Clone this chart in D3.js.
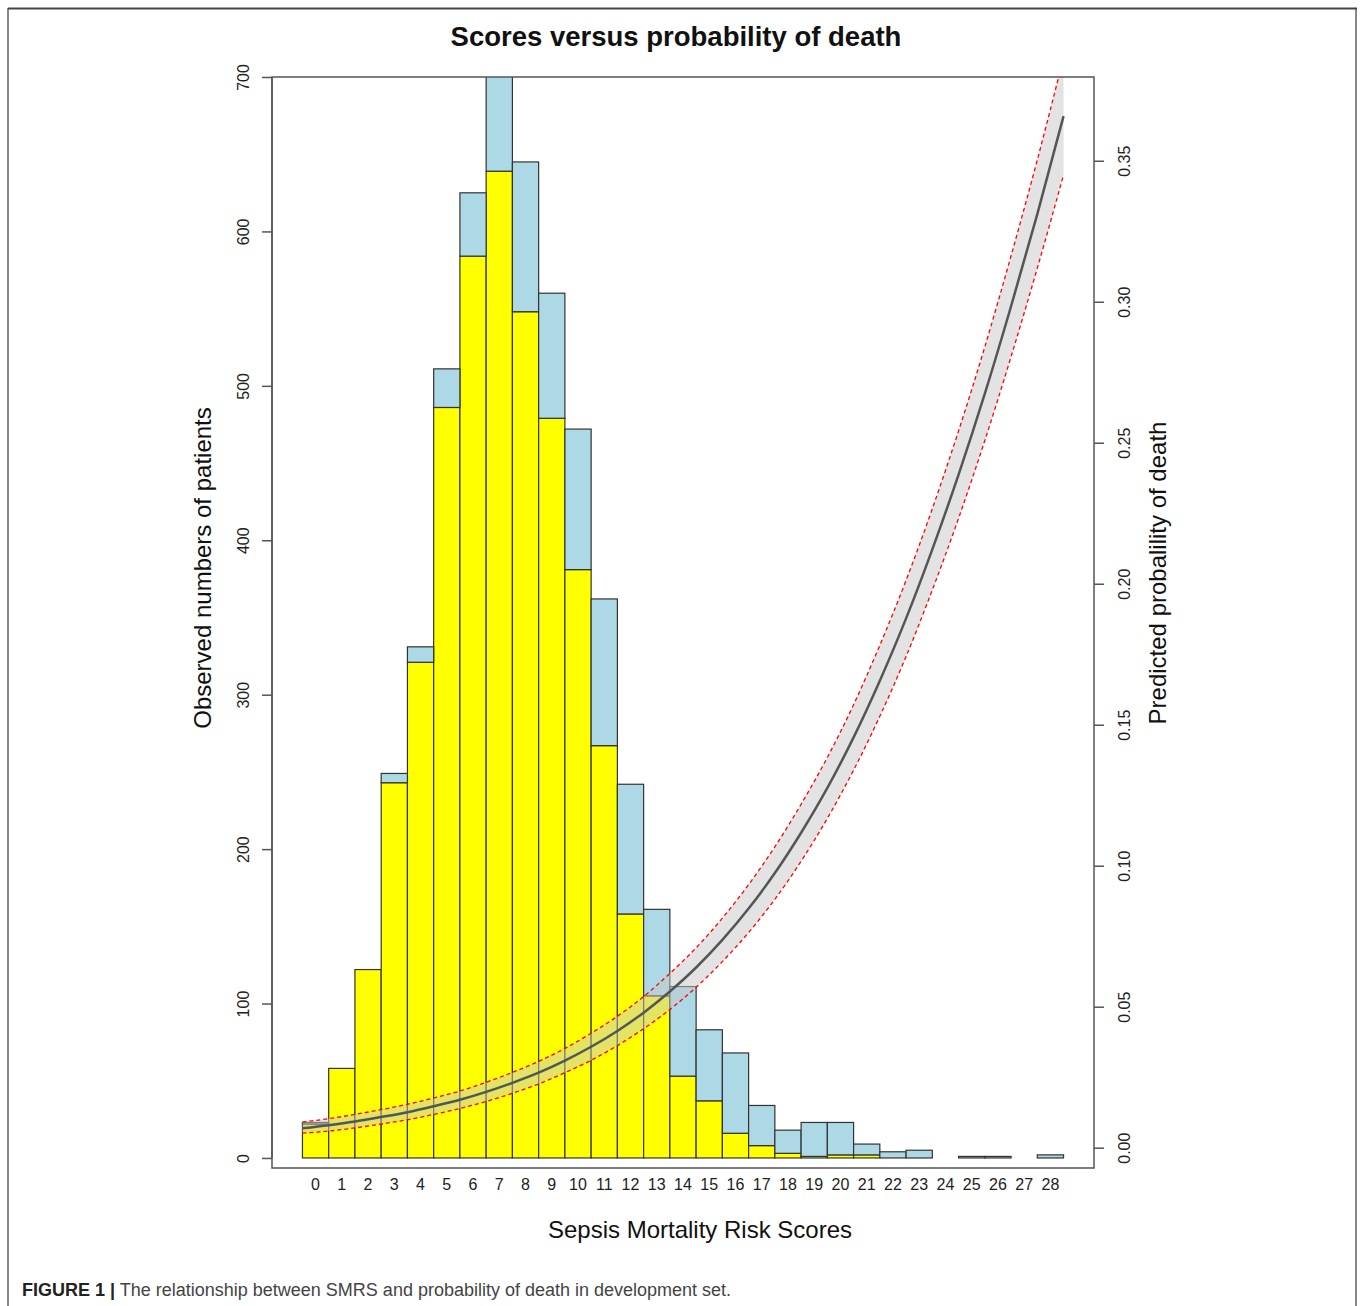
<!DOCTYPE html>
<html>
<head>
<meta charset="utf-8">
<script src="https://cdn.jsdelivr.net/npm/d3@7"></script>
<style>
  html, body { margin: 0; padding: 0; background: #fff; }
  svg { display: block; font-family: "Liberation Sans", Arial, Helvetica, sans-serif; }
</style>
</head>
<body>
<svg id="chart" width="1360" height="1306"></svg>
<script>
// ---------------- DATA ----------------
const scores = [0,1,2,3,4,5,6,7,8,9,10,11,12,13,14,15,16,17,18,19,20,21,22,23,24,25,26,27,28];
// lower (yellow) segment of each bar
const yellowCounts = [22,58,122,243,321,486,584,639,548,479,381,267,158,105,53,37,16,8,3,1,2,2,0,0,0,0,0,0,0];
// upper (light blue) segment of each bar
const blueCounts   = [1,0,0,6,10,25,41,73,97,81,91,95,84,56,58,46,52,26,15,22,21,7,4,5,0,1,1,0,2];
// predicted probability curve, read at bar edges (0 = left edge of first bar, 29 = right edge of last bar)
const curvePos = [0,1,2,3,4,5,6,7,8,9,10,11,12,13,14,15,16,17,18,19,20,21,22,23,24,25,26,27,28,29];
const probFit   = [0.0069,0.0080,0.0093,0.0109,0.0126,0.0147,0.0170,0.0198,0.0230,0.0266,0.0309,0.0358,0.0414,0.0479,0.0554,0.0639,0.0737,0.0848,0.0974,0.1117,0.1276,0.1455,0.1656,0.1877,0.2122,0.2387,0.2674,0.2984,0.3311,0.3658];
const probLower = [0.0052,0.0059,0.0070,0.0084,0.0099,0.0118,0.0139,0.0164,0.0193,0.0226,0.0266,0.0310,0.0362,0.0422,0.0490,0.0569,0.0660,0.0763,0.0881,0.1016,0.1168,0.1339,0.1530,0.1742,0.1978,0.2232,0.2508,0.2805,0.3119,0.3450];
const probUpper = [0.0091,0.0103,0.0118,0.0135,0.0154,0.0176,0.0201,0.0232,0.0267,0.0306,0.0352,0.0406,0.0466,0.0536,0.0618,0.0709,0.0814,0.0933,0.1067,0.1218,0.1384,0.1571,0.1782,0.2012,0.2266,0.2542,0.2840,0.3163,0.3503,0.3866];
const leftTicks  = [0,100,200,300,400,500,600,700];
const rightTicks = [0,0.05,0.10,0.15,0.20,0.25,0.30,0.35];

const titleText = "Scores versus probability of death";
const xTitle = "Sepsis Mortality Risk Scores";
const yLeftTitle = "Observed numbers of patients";
const yRightTitle = "Predicted probalility of death";
const captionBold = "FIGURE 1 |";
const captionText = " The relationship between SMRS and probability of death in development set.";

// ---------------- LAYOUT ----------------
const svg = d3.select("#chart");
const plot = { left: 272, right: 1094, top: 77, bottom: 1168 };

const x = d3.scaleLinear().domain([-1.16, 30.16]).range([plot.left, plot.right]);
const yL = d3.scaleLinear().domain([-6.5, 700]).range([plot.bottom, plot.top]);
const yR = d3.scaleLinear().domain([-0.0072, 0.3797]).range([plot.bottom, plot.top]);

// figure frame
svg.append("line").attr("x1", 8).attr("x2", 8).attr("y1", 8).attr("y2", 1306)
  .attr("stroke", "#888").attr("stroke-width", 2);
svg.append("line").attr("x1", 1356).attr("x2", 1356).attr("y1", 8).attr("y2", 1306)
  .attr("stroke", "#888").attr("stroke-width", 2);
svg.append("line").attr("x1", 8).attr("x2", 1357).attr("y1", 8.5).attr("y2", 8.5)
  .attr("stroke", "#444").attr("stroke-width", 2);

svg.append("defs").append("clipPath").attr("id", "clip")
  .append("rect").attr("x", plot.left).attr("y", plot.top)
  .attr("width", plot.right - plot.left).attr("height", plot.bottom - plot.top);

const g = svg.append("g").attr("clip-path", "url(#clip)");

// stacked bars
const stackData = scores.map((s, i) => ({ s, yellow: yellowCounts[i], blue: blueCounts[i] }));
const stack = d3.stack().keys(["yellow", "blue"])(stackData);
const fills = { yellow: "#FFFF00", blue: "#ADD8E6" };
stack.forEach(layer => {
  g.append("g").selectAll("rect")
    .data(layer.filter(d => d[1] - d[0] > 0))
    .join("rect")
    .attr("x", d => x(d.data.s))
    .attr("width", d => x(d.data.s + 1) - x(d.data.s))
    .attr("y", d => yL(d[1]))
    .attr("height", d => yL(d[0]) - yL(d[1]))
    .attr("fill", fills[layer.key])
    .attr("stroke", "#333")
    .attr("stroke-width", 1.2);
});

// confidence band
const curve = curvePos.map((p, i) => ({ p, fit: probFit[i], lo: probLower[i], hi: probUpper[i] }));
g.append("path").datum(curve)
  .attr("d", d3.area().x(d => x(d.p)).y0(d => yR(d.lo)).y1(d => yR(d.hi)).curve(d3.curveMonotoneX))
  .attr("fill", "rgba(200,200,200,0.5)").attr("stroke", "none");
["lo", "hi"].forEach(k => {
  g.append("path").datum(curve)
    .attr("d", d3.line().x(d => x(d.p)).y(d => yR(d[k])).curve(d3.curveMonotoneX))
    .attr("fill", "none").attr("stroke", "#ff0000").attr("stroke-width", 1.3)
    .attr("stroke-dasharray", "4,3");
});
g.append("path").datum(curve)
  .attr("d", d3.line().x(d => x(d.p)).y(d => yR(d.fit)).curve(d3.curveMonotoneX))
  .attr("fill", "none").attr("stroke", "#555").attr("stroke-width", 2.5);

// box
svg.append("rect").attr("x", plot.left).attr("y", plot.top)
  .attr("width", plot.right - plot.left).attr("height", plot.bottom - plot.top)
  .attr("fill", "none").attr("stroke", "#555").attr("stroke-width", 1.5);

// left axis
const leftAxis = svg.append("g").attr("transform", `translate(${plot.left},0)`)
  .call(d3.axisLeft(yL).tickValues(leftTicks).tickSize(10).tickFormat(d3.format("d")));
leftAxis.select(".domain").attr("d", `M0,${yL(0)}V${yL(700)}`).attr("stroke", "#555").attr("stroke-width", 1.5);
leftAxis.selectAll(".tick line").attr("stroke", "#555").attr("stroke-width", 1.5);
leftAxis.selectAll(".tick text")
  .attr("font-size", 16).attr("fill", "#222").attr("font-family", "Liberation Sans, Arial, sans-serif")
  .attr("x", 0).attr("dy", 0).attr("text-anchor", "middle")
  .attr("transform", "translate(-23,0) rotate(-90)")
  .attr("y", 0);

// right axis
const rightAxis = svg.append("g").attr("transform", `translate(${plot.right},0)`)
  .call(d3.axisRight(yR).tickValues(rightTicks).tickSize(10).tickFormat(d3.format(".2f")));
rightAxis.select(".domain").remove();
rightAxis.selectAll(".tick line").attr("stroke", "#555").attr("stroke-width", 1.5);
rightAxis.selectAll(".tick text")
  .attr("font-size", 16).attr("fill", "#222").attr("font-family", "Liberation Sans, Arial, sans-serif")
  .attr("x", 0).attr("dy", 0).attr("y", 0).attr("text-anchor", "middle")
  .attr("transform", "translate(36,0) rotate(-90)");

// x labels (no ticks, barplot names)
svg.append("g").selectAll("text").data(scores).join("text")
  .attr("x", d => x(d + 0.5)).attr("y", 1190)
  .attr("text-anchor", "middle").attr("font-size", 16).attr("fill", "#222")
  .text(d => d);

// titles
svg.append("text").attr("x", 676).attr("y", 46).attr("text-anchor", "middle")
  .attr("font-size", 27.5).attr("font-weight", "bold").attr("fill", "#111").text(titleText);
svg.append("text").attr("x", 700).attr("y", 1238).attr("text-anchor", "middle")
  .attr("font-size", 24).attr("fill", "#111").text(xTitle);
svg.append("text").attr("transform", "translate(211,568) rotate(-90)").attr("text-anchor", "middle")
  .attr("font-size", 24).attr("fill", "#111").text(yLeftTitle);
svg.append("text").attr("transform", "translate(1166,573) rotate(-90)").attr("text-anchor", "middle")
  .attr("font-size", 24).attr("fill", "#111").text(yRightTitle);

// caption
const cap = svg.append("text").attr("x", 22).attr("y", 1296).attr("font-size", 18).attr("fill", "#222");
cap.append("tspan").attr("font-weight", "bold").text(captionBold);
cap.append("tspan").attr("fill", "#444").text(captionText);
</script>
</body>
</html>
